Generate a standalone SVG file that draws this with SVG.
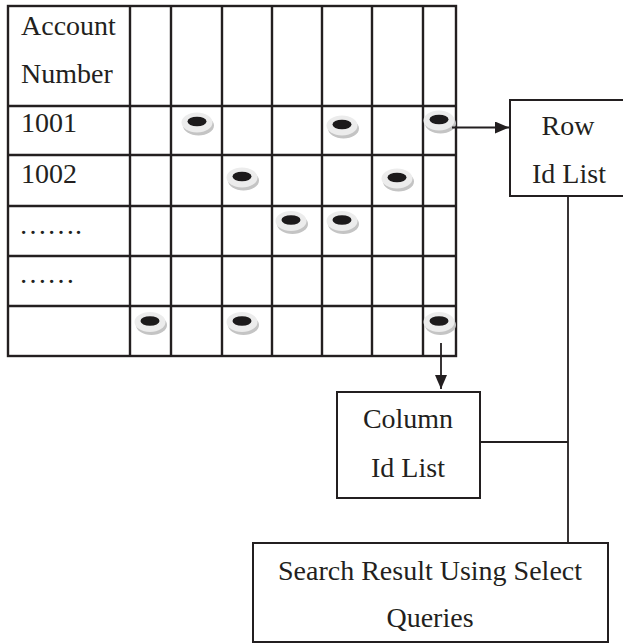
<svg xmlns="http://www.w3.org/2000/svg" width="623" height="644" viewBox="0 0 623 644">
<style>
  text { font-family: 'Liberation Serif', 'Times New Roman', Times, 'DejaVu Serif', serif; font-size: 28px; fill: #231f20; }
  .m { text-anchor: middle; }
  .grid { stroke: #231f20; stroke-width: 2.4; fill: none; }
  .box { stroke: #231f20; stroke-width: 2; fill: #ffffff; }
  .conn { stroke: #231f20; stroke-width: 1.8; fill: none; }
</style>
<defs>
  <g id="dot">
    <ellipse cx="1.5" cy="4" rx="15.5" ry="10" fill="#c4c4c4"/>
    <ellipse cx="0" cy="1" rx="15.5" ry="10" fill="#ececec"/>
    <ellipse cx="0" cy="0" rx="9.5" ry="4.8" fill="#1c1a1b"/>
  </g>
  <marker id="arr" markerWidth="14" markerHeight="12" refX="14" refY="6" orient="auto" markerUnits="userSpaceOnUse">
    <path d="M0,0 L14,6 L0,12 Z" fill="#231f20"/>
  </marker>
</defs>
<rect width="623" height="644" fill="#ffffff"/>

<g id="grid">
  <rect class="grid" x="8" y="6" width="448" height="350"/>
  <path class="grid" d="M130,6V356 M171,6V356 M222,6V356 M272,6V356 M322,6V356 M372,6V356 M423,6V356 M8,106H456 M8,155H456 M8,206H456 M8,256H456 M8,306H456"/>
  <text font-family="Liberation Serif, serif" x="21" y="35">Account</text>
  <text font-family="Liberation Serif, serif" x="21" y="83">Number</text>
  <text font-family="Liberation Serif, serif" x="21" y="132">1001</text>
  <text font-family="Liberation Serif, serif" x="21" y="183">1002</text>
  <text font-family="Liberation Serif, serif" x="19" y="234">…….</text>
  <text font-family="Liberation Serif, serif" x="19" y="283">……</text>
</g>

<g id="dots">
  <use href="#dot" x="197" y="121.5"/>
  <use href="#dot" x="342" y="124.5"/>
  <use href="#dot" x="439" y="119.5"/>
  <use href="#dot" x="242" y="176.5"/>
  <use href="#dot" x="397" y="177.5"/>
  <use href="#dot" x="291" y="220"/>
  <use href="#dot" x="342" y="220"/>
  <use href="#dot" x="150" y="321"/>
  <use href="#dot" x="242" y="321"/>
  <use href="#dot" x="439" y="321"/>
</g>

<g id="connectors">
  <line class="conn" x1="452" y1="127.5" x2="509" y2="127.5" marker-end="url(#arr)"/>
  <line class="conn" x1="441" y1="343" x2="441" y2="389" marker-end="url(#arr)"/>
  <path class="conn" d="M568,196V543 M480,442H568"/>
</g>

<g id="row-id-list">
  <rect class="box" x="510" y="100" width="120" height="96"/>
  <text class="m" x="568" y="135">Row</text>
  <text class="m" x="569" y="183">Id List</text>
</g>

<g id="column-id-list">
  <rect class="box" x="337" y="392" width="143" height="106"/>
  <text class="m" x="408" y="428">Column</text>
  <text class="m" x="408" y="477">Id List</text>
</g>

<g id="search-result">
  <rect class="box" x="253" y="543" width="355" height="99"/>
  <text class="m" x="430" y="580">Search Result Using Select</text>
  <text class="m" x="430" y="627">Queries</text>
</g>
</svg>
